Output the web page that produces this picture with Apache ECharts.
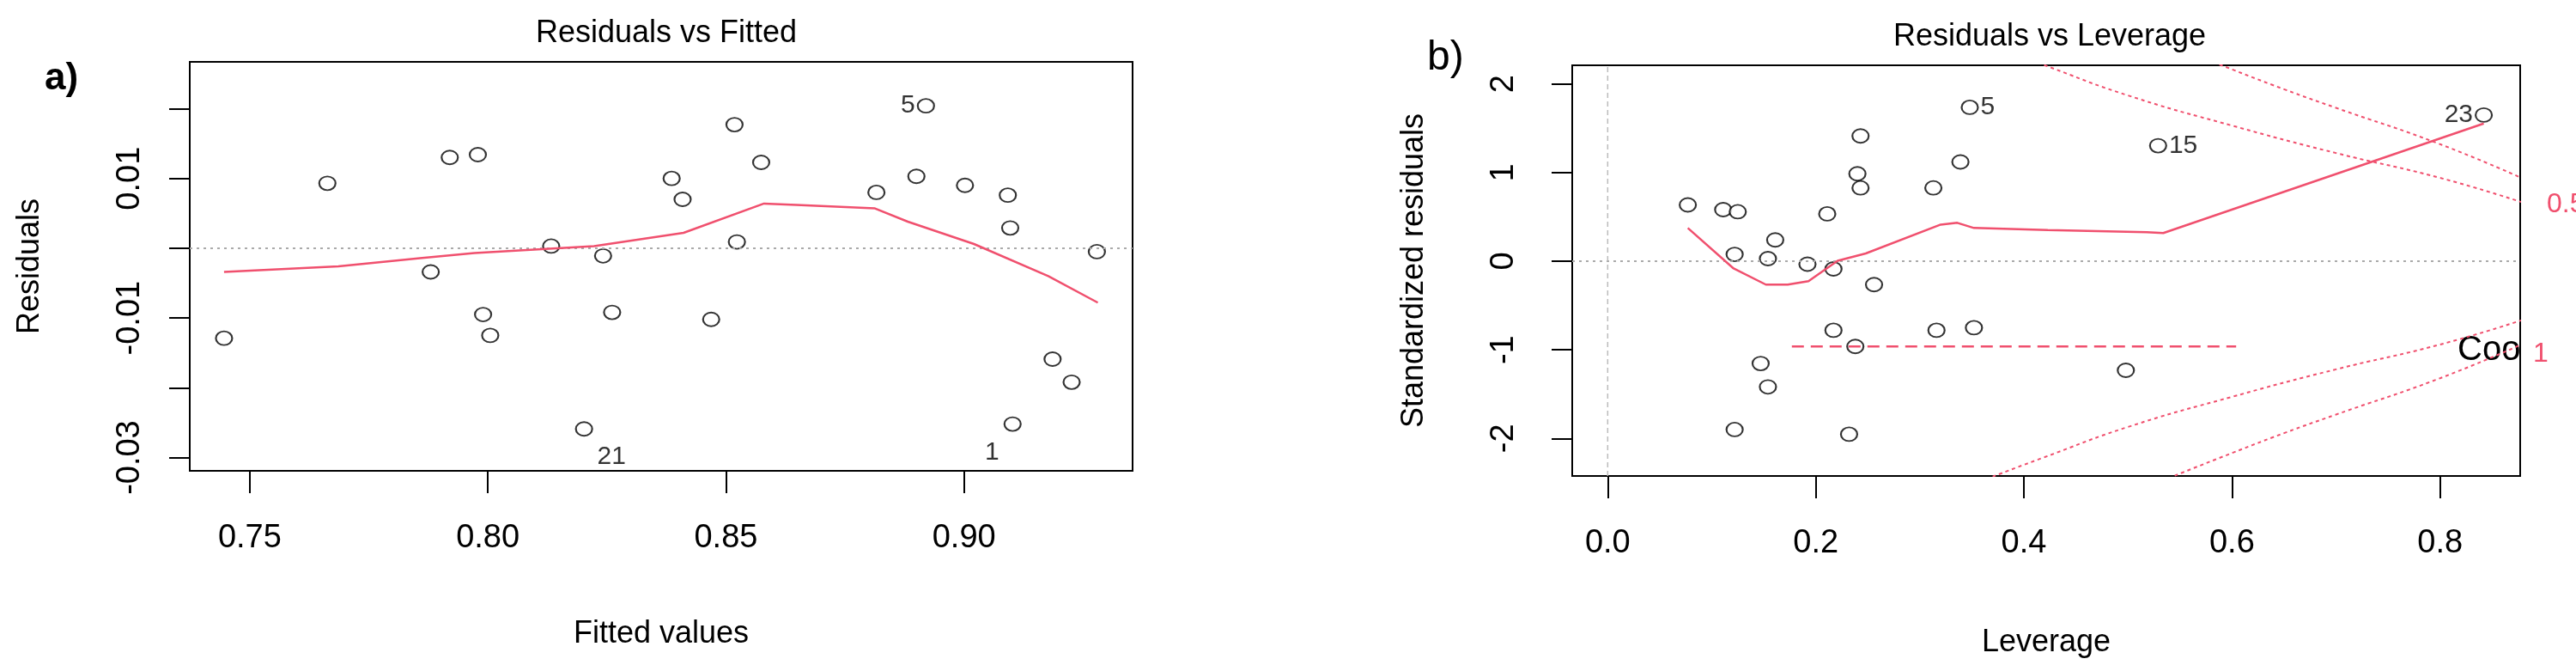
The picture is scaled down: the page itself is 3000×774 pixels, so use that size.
<!DOCTYPE html>
<html><head><meta charset="utf-8">
<script src="https://cdn.jsdelivr.net/npm/echarts@6/dist/echarts.min.js"></script>
<style>html,body{margin:0;padding:0;background:#fff}#c{width:3000px;height:774px}</style>
</head><body><div id="c"></div>
<script>
// Panel a: Residuals vs Fitted
const fittedX = [0.7446,0.7663,0.7920,0.7979,0.7880,0.7990,0.8005,0.8133,0.8202,0.8242,0.8261,0.8386,0.8409,0.8469,0.8518,0.8523,0.8574,0.8816,0.8900,0.8920,0.9002,0.9092,0.9097,0.9102,0.9186,0.9226,0.9279];
const residY  = [-0.0129,0.0093,0.0130,0.0134,-0.0034,-0.0095,-0.0125,0.0003,-0.0259,-0.0011,-0.0092,0.0100,0.0070,-0.0102,0.0177,0.0009,0.0123,0.0080,0.0103,0.0204,0.0090,0.0076,0.0029,-0.0252,-0.0159,-0.0192,-0.0005];
const smoothAX = [0.7446,0.7686,0.7862,0.7972,0.8223,0.8411,0.8580,0.8648,0.8813,0.8882,0.9021,0.9177,0.9281];
const smoothAY = [-0.0034,-0.0026,-0.0014,-0.0007,0.0003,0.0022,0.0064,0.0062,0.0057,0.0038,0.0006,-0.0040,-0.0078];
const aXTicks = [0.75,0.80,0.85,0.90];
const aYTicks = [-0.03,-0.02,-0.01,0,0.01,0.02];
const aYLabels = [-0.03,-0.01,0.01];
const aPointLabels = {8:'21',19:'5',23:'1'};

// Panel b: Residuals vs Leverage
const leverageX = [0.077,0.111,0.125,0.122,0.122,0.161,0.154,0.147,0.154,0.192,0.211,0.217,0.217,0.232,0.238,0.240,0.243,0.243,0.256,0.313,0.316,0.339,0.348,0.352,0.498,0.529,0.842];
const stdResY  = [0.635,0.582,0.558,0.077,-1.899,0.240,0.029,-1.154,-1.418,-0.034,0.534,-0.087,-0.779,-1.952,-0.962,0.986,1.413,0.827,-0.264,0.827,-0.779,1.120,1.736,-0.750,-1.231,1.303,1.649];
const smoothBX = [0.077,0.121,0.152,0.173,0.193,0.221,0.248,0.320,0.336,0.352,0.423,0.518,0.534,0.842];
const smoothBY = [0.375,-0.082,-0.264,-0.264,-0.226,0.005,0.087,0.413,0.433,0.375,0.351,0.327,0.317,1.553];
const dashedBX = [0.177,0.604];
const dashedBY = [-0.962,-0.962];
const cookHalfX = [0.37,0.42,0.5,0.6,0.7,0.8,0.88];
const cookHalfY = [2.43,2.21,1.87,1.53,1.22,0.94,0.66];
const cookOneX = [0.545,0.59,0.65,0.7,0.8,0.88];
const cookOneY = [2.42,2.21,1.94,1.73,1.32,0.93];
const bXTicks = [0,0.2,0.4,0.6,0.8];
const bYTicks = [-2,-1,0,1,2];
const bPointLabels = {22:'5',25:'15',26:'23'};

const pink = '#f0506e';
const pairs = (xs, ys) => xs.map((x,i)=>[x, ys[i]]);
const neg = a => a.map(v=>-v);
const font = 'Liberation Sans, Arial, sans-serif';

function ptData(xs, ys, labels, posMap){
  return xs.map((x,i)=>{
    const d = {value:[x,ys[i]]};
    if (labels[i]) d.label = Object.assign({show:true, formatter:labels[i], color:'#000', fontSize:30, fontFamily:font}, posMap[labels[i]]);
    return d;
  });
}

const chart = echarts.init(document.getElementById('c'));
const axisCommon = {
  type:'value', splitLine:{show:false}, axisLine:{show:false, onZero:false},
};
const tickStyle = {color:'#000', width:2};
const tickFont = 38;
chart.setOption({
  animation:false,
  title:[
    {text:'Residuals vs Fitted', left:771, top:16, textAlign:'center', textStyle:{fontSize:36, fontWeight:'normal', fontFamily:font, color:'#000'}},
    {text:'Residuals vs Leverage', left:2382, top:20, textAlign:'center', textStyle:{fontSize:36, fontWeight:'normal', fontFamily:font, color:'#000'}}
  ],
  graphic:[
    {type:'text', left:52, top:70, style:{text:'a)', fontSize:44, fontWeight:'bold', fontFamily:font, fill:'#000'}},
    {type:'text', left:1662, top:44, style:{text:'b)', fontSize:48, fontFamily:font, fill:'#000'}},
    {type:'text', left:2966, top:222, style:{text:'0.5', fontSize:32, fontFamily:font, fill:pink}},
    {type:'text', left:2950, top:396, style:{text:'1', fontSize:32, fontFamily:font, fill:pink}},
    {type:'text', left:2862, top:388, style:{text:'Coo', fontSize:40, fontFamily:font, fill:'#000'}}
  ],
  grid:[
    {left:221, top:72, width:1098, height:476, show:true, borderColor:'#000', borderWidth:2, backgroundColor:'transparent'},
    {left:1831, top:76, width:1104, height:478, show:true, borderColor:'#000', borderWidth:2, backgroundColor:'transparent'}
  ],
  xAxis:[
    Object.assign({}, axisCommon, {gridIndex:0, min:0.7374, max:0.9354,
      name:'Fitted values', nameLocation:'middle', nameGap:172, nameTextStyle:{fontSize:36, fontFamily:font, color:'#000'},
      axisTick:{show:true, length:26, customValues:aXTicks, lineStyle:tickStyle},
      axisLabel:{customValues:aXTicks, margin:60, fontSize:tickFont, fontFamily:font, color:'#000', formatter:v=>v.toFixed(2)}}),
    Object.assign({}, axisCommon, {gridIndex:1, min:-0.0341, max:0.877,
      name:'Leverage', nameLocation:'middle', nameGap:176, nameTextStyle:{fontSize:36, fontFamily:font, color:'#000'},
      axisTick:{show:true, length:26, customValues:bXTicks, lineStyle:tickStyle},
      axisLabel:{customValues:bXTicks, margin:60, fontSize:tickFont, fontFamily:font, color:'#000', formatter:v=>v.toFixed(1)}})
  ],
  yAxis:[
    Object.assign({}, axisCommon, {gridIndex:0, min:-0.0319, max:0.0267,
      name:'Residuals', nameLocation:'middle', nameGap:168, nameTextStyle:{fontSize:36, fontFamily:font, color:'#000'},
      axisTick:{show:true, length:24, customValues:aYTicks, lineStyle:tickStyle},
      axisLabel:{customValues:aYLabels, rotate:90, margin:50, fontSize:tickFont, fontFamily:font, color:'#000', formatter:v=>v.toFixed(2)}}),
    Object.assign({}, axisCommon, {gridIndex:1, min:-2.423, max:2.21,
      name:'Standardized residuals', nameLocation:'middle', nameGap:166, nameTextStyle:{fontSize:36, fontFamily:font, color:'#000'},
      axisTick:{show:true, length:24, customValues:bYTicks, lineStyle:tickStyle},
      axisLabel:{customValues:bYTicks, rotate:90, margin:60, fontSize:tickFont, fontFamily:font, color:'#000', formatter:v=>String(v)}})
  ],
  series:[
    {type:'line', xAxisIndex:0, yAxisIndex:0, data:[[0.7374,0],[0.9354,0]], showSymbol:false, silent:true,
      lineStyle:{color:'#aaa', width:2, type:[3,5]}},
    {type:'line', xAxisIndex:0, yAxisIndex:0, data:pairs(smoothAX, smoothAY), showSymbol:false, lineStyle:{color:pink, width:2.5}},
    {type:'scatter', xAxisIndex:0, yAxisIndex:0, symbol:'emptyCircle', symbolSize:[19,16],
      itemStyle:{color:'#000', borderColor:'#000', borderWidth:2},
      data:ptData(fittedX, residY, aPointLabels, {
        '21':{position:'bottom', offset:[32,4]},
        '5':{position:'left', distance:2},
        '1':{position:'bottom', offset:[-24,4]}
      })},
    {type:'line', xAxisIndex:1, yAxisIndex:1, data:[[-0.0341,0],[0.877,0]], showSymbol:false, silent:true,
      lineStyle:{color:'#aaa', width:2, type:[3,5]}},
    {type:'line', xAxisIndex:1, yAxisIndex:1, data:[[0,-2.423],[0,2.21]], showSymbol:false, silent:true,
      lineStyle:{color:'#bbb', width:1.5, type:[6,4]}},
    {type:'line', xAxisIndex:1, yAxisIndex:1, data:pairs(smoothBX, smoothBY), showSymbol:false, lineStyle:{color:pink, width:2.5}},
    {type:'line', xAxisIndex:1, yAxisIndex:1, data:pairs(dashedBX, dashedBY), showSymbol:false, lineStyle:{color:pink, width:2.5, type:[14,8]}},
    {type:'line', xAxisIndex:1, yAxisIndex:1, data:pairs(cookHalfX, cookHalfY), smooth:true, showSymbol:false, lineStyle:{color:pink, width:2, type:[4,4]}},
    {type:'line', xAxisIndex:1, yAxisIndex:1, data:pairs(cookHalfX, neg(cookHalfY)), smooth:true, showSymbol:false, lineStyle:{color:pink, width:2, type:[4,4]}},
    {type:'line', xAxisIndex:1, yAxisIndex:1, data:pairs(cookOneX, cookOneY), smooth:true, showSymbol:false, lineStyle:{color:pink, width:2, type:[4,4]}},
    {type:'line', xAxisIndex:1, yAxisIndex:1, data:pairs(cookOneX, neg(cookOneY)), smooth:true, showSymbol:false, lineStyle:{color:pink, width:2, type:[4,4]}},
    {type:'scatter', xAxisIndex:1, yAxisIndex:1, symbol:'emptyCircle', symbolSize:[19,16],
      itemStyle:{color:'#000', borderColor:'#000', borderWidth:2},
      data:ptData(leverageX, stdResY, bPointLabels, {
        '5':{position:'right', distance:2},
        '15':{position:'right', distance:2},
        '23':{position:'left', distance:2}
      })}
  ]
});
</script></body></html>
